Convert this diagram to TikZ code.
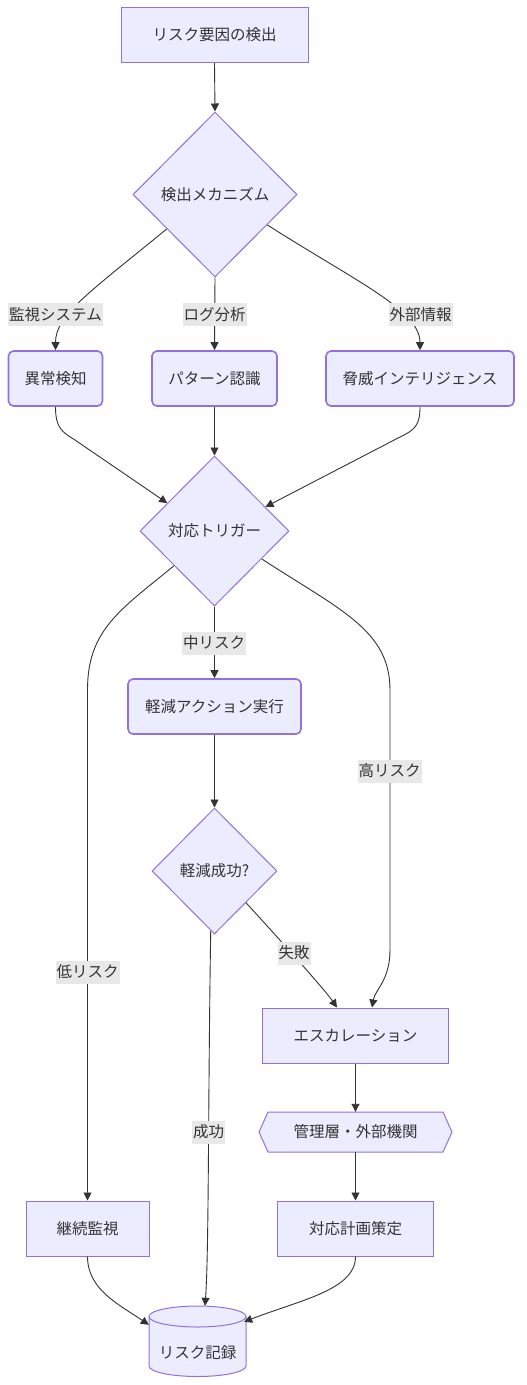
\documentclass[tikz,border=0pt]{standalone}
\usepackage{fontspec}
\setmainfont{Noto Sans CJK JP}
\usetikzlibrary{shapes.geometric,arrows.meta,calc}
\definecolor{nfill}{HTML}{ECECFF}
\definecolor{nline}{HTML}{9370DB}
\definecolor{eline}{HTML}{333333}
\definecolor{lbg}{HTML}{E8E8E8}
\begin{document}
\begin{tikzpicture}[x=1pt,y=-1pt,
  font=\fontsize{15.5}{18}\selectfont, text=eline,
  box/.style={draw=nline, fill=nfill, line width=1pt, inner sep=0pt, minimum width=#1, minimum height=55pt},
  rbox/.style={box=#1, rounded corners=5pt, line width=1.6pt},
  dia/.style 2 args={diamond, draw=nline, fill=nfill, line width=1pt, inner sep=0pt, minimum width=#1, minimum height=#2},
  shapeline/.style={draw=nline, fill=nfill, line width=1pt},
  lab/.style={fill=lbg, inner xsep=1pt, inner ysep=0pt, minimum height=23pt},
  conn/.style={draw=eline, line width=0.9pt, -{Triangle[length=8pt,width=8pt]}}]
\useasboundingbox (0,0) rectangle (527,1385);

% nodes
\node[box=187pt] (n1) at (214.5,35) {リスク要因の検出};
\node[dia={164pt}{165pt}] (d1) at (215,194.5) {検出メカニズム};
\node[rbox=94pt] (A) at (55.5,378.5) {異常検知};
\node[rbox=125pt] (B) at (214.5,378.5) {パターン認識};
\node[rbox=188pt] (C) at (420,378.5) {脅威インテリジェンス};
\node[dia={149pt}{150pt}] (d2) at (214.5,531) {対応トリガー};
\node[rbox=173pt] (F) at (214.5,706.5) {軽減アクション実行};
\node[dia={125pt}{126pt}] (d3) at (214.5,871) {軽減成功?};
\node[box=186pt] (G) at (355.5,1035.5) {エスカレーション};

% hexagon
\path[shapeline] (259,1132) -- (268,1112) -- (443,1112) -- (452,1132) -- (443,1152) -- (268,1152) -- cycle;
\node[minimum width=193pt, minimum height=40pt, inner sep=0pt] (I) at (355.5,1132) {管理層・外部機関};

\node[box=123pt] (E) at (87.5,1228.5) {継続監視};
\node[box=156pt] (J) at (355.5,1228.5) {対応計画策定};

% cylinder
\path[shapeline] (149,1316.5) -- (149,1366) arc[start angle=180, end angle=360, x radius=48.5pt, y radius=10.5pt]
  -- (246,1316.5) arc[start angle=0, end angle=180, x radius=48.5pt, y radius=10.5pt] -- cycle;
\draw[draw=nline, line width=1pt] (149,1316.5) arc[start angle=180, end angle=360, x radius=48.5pt, y radius=10.5pt];
\node[minimum width=97pt, minimum height=70.5pt, inner sep=0pt] (H) at (197.5,1341.25) {};
\node (Ht) at ($(H.center)+(0,11)$) {リスク記録};

% connectors
\draw[conn] (n1.south) -- (d1.north);
\draw[conn] ($(d1.west)!0.415!(d1.south)$) .. controls (90,292) and (55.5,315) .. (A.north);
\draw[conn] (d1.south) -- (B.north);
\draw[conn] ($(d1.east)!0.366!(d1.south)$) .. controls (355,281) and (420,310) .. (C.north);

\draw[conn] (A.south) .. controls (55.5,428) and (62,432) .. (75,440) -- ($(d2.west)!0.37!(d2.north)$);
\draw[conn] (B.south) -- (d2.north);
\draw[conn] (C.south) .. controls (420,425) and (415,430) .. (400,437) -- ($(d2.east)!0.32!(d2.north)$);

\draw[conn] ($(d2.west)!0.46!(d2.south)$) .. controls (120,610) and (87.5,630) .. (87.5,690) -- (E.north);
\draw[conn] (d2.south) -- (F.north);
\draw[conn] ($(d2.east)!0.37!(d2.south)$) .. controls (340,610) and (390,630) .. (390,690) -- (390,950)
  .. controls (390,980) and (375,990) .. ($(G.north)+(16.5,0)$);

\draw[conn] (F.south) -- (d3.north);
\draw[conn] ($(d3.east)!0.5!(d3.south)$) .. controls (282,942) and (325,990) .. ($(G.north)+(-18.5,0)$);
\draw[conn] ($(d3.south)!0.06!(d3.west)$) .. controls (208,1100) and (209,1250) .. ($(H.north)+(7.5,0)$);

\draw[conn] (G.south) -- (I.north);
\draw[conn] (I.south) -- (J.north);
\draw[conn] (E.south) .. controls (87.5,1290) and (120,1305) .. ($(H.north west)+(0,19)$);
\draw[conn] (J.south) .. controls (355.5,1290) and (300,1300) .. ($(H.north east)+(-2,16)$);

% edge labels
\node[lab] (l1) at (55.5,314.5) {監視システム};
\node[lab] (l2) at (214.5,314.5) {ログ分析};
\node[lab] (l3) at (420.5,314.5) {外部情報};
\node[lab] (l4) at (214,643) {中リスク};
\node[lab] (l5) at (389.5,771) {高リスク};
\node[lab] (l6) at (87.5,972) {低リスク};
\node[lab] (l7) at (294,953) {失敗};
\node[lab] (l8) at (208.5,1132) {成功};
\end{tikzpicture}
\end{document}
